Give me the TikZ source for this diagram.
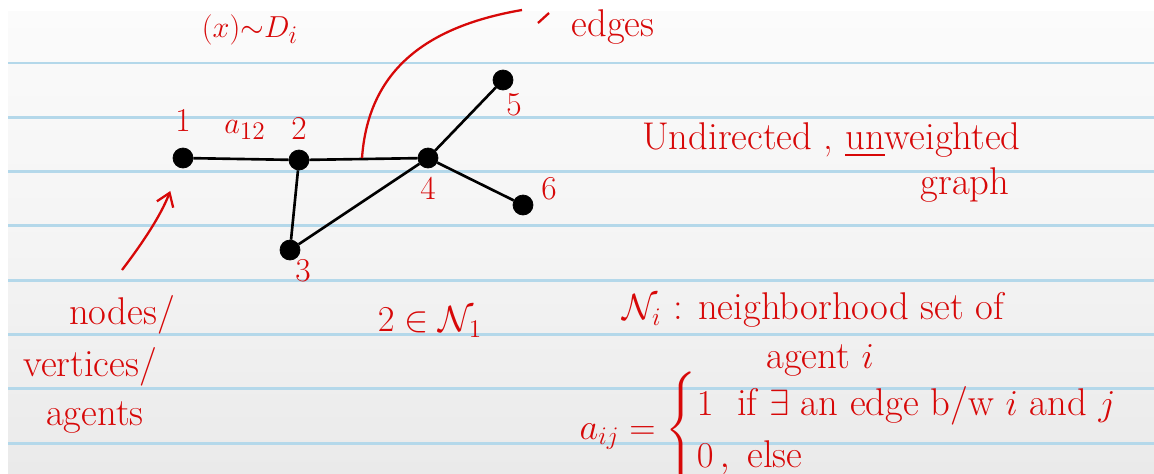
\documentclass[tikz,border=0pt]{standalone}
\usepackage{amsmath}
\usepackage{amssymb}
\usepackage{xcolor}
\usetikzlibrary{positioning,arrows.meta}

\definecolor{ink}{RGB}{215,8,8}
\definecolor{ruleblue}{RGB}{180,216,234}
\definecolor{pagetop}{RGB}{251,251,251}
\definecolor{pagebot}{RGB}{234,234,234}

\tikzset{
  agentdot/.style={circle,fill=black,draw=black,minimum size=0.4cm,inner sep=0pt},
  note/.style={text=ink,font=\fontsize{22}{27}\selectfont,inner sep=1pt},
  tag/.style={text=ink,font=\fontsize{19}{22}\selectfont,inner sep=1pt},
  ruling/.style={ruleblue,line width=1.6pt},
  link/.style={black,line width=1.5pt},
  pen/.style={ink,line width=1.3pt}
}

\begin{document}
\begin{tikzpicture}
            \useasboundingbox (0,0) rectangle (23.08,-9.46);
            \fill[white] (0,0) rectangle (23.08,-9.46);
            \shade[top color=pagetop,bottom color=pagebot,middle color=pagetop!60!pagebot] (0.16,-0.22) rectangle (23.08,-9.46);
            \foreach \i in {0,...,7}
                \draw[ruling] (0.16,{-1.26-1.086*\i}) -- (23.08,{-1.26-1.086*\i});

            \node[agentdot] (n1) at (3.66,-3.16) {};
            \node[agentdot] (n2) at (5.98,-3.20) {};
            \node[agentdot] (n3) at (5.80,-5.00) {};
            \node[agentdot] (n4) at (8.56,-3.16) {};
            \node[agentdot] (n5) at (10.06,-1.60) {};
            \node[agentdot] (n6) at (10.46,-4.10) {};

            \node[tag, above=0.28 of n1] (l1) {1};
            \node[tag, above=0.16 of n2] (l2) {2};
            \node[tag, below right=0.0 and -0.08 of n3] (l3) {3};
            \node[tag, below=0.14 of n4] (l4) {4};
            \node[tag, below right=0.08 and -0.12 of n5] (l5) {5};
            \node[tag, above right=-0.08 and 0.18 of n6] (l6) {6};
            \node[tag] (a12) at (4.9,-2.6) {$a_{12}$};

            \draw[link] (n1) -- (n2) -- (n4) -- (n5);
            \draw[link] (n2) -- (n3) -- (n4) -- (n6);

            \coordinate (ebase) at (7.24,-3.16);
            \coordinate (etip) at (10.44,-0.2);
            \draw[pen] (ebase) .. controls (7.36,-1.5) and (8.4,-0.55) .. (etip);
            \coordinate (slashlo) at (10.76,-0.46);
            \coordinate (slashhi) at (10.98,-0.26);
            \draw[pen] (slashlo) -- (slashhi);
            \node[note, anchor=base] (edges) at (12.26,-0.72) {edges};

            \coordinate (ptail) at (2.44,-5.4);
            \draw[pen,-{Straight Barb[length=2.5mm,width=3.5mm]},shorten >=0.5cm] (ptail) to[bend right=8] (n1);

            \node[tag] (dist) at (5.0,-0.6) {$(x){\sim}D_i$};
            \node[note] (nodes) at (2.44,-6.3) {nodes/};
            \node[note] (verts) at (1.8,-7.34) {vertices/};
            \node[note] (agents) at (1.9,-8.36) {agents};
            \node[note] (member) at (8.6,-6.44) {$2\in\mathcal{N}_1$};

            \node[note, anchor=west] (kind) at (12.8,-2.8) {Undirected , \underline{un}weighted};
            \node[note] (graph) at (19.3,-3.7) {graph};
            \node[note, anchor=west] (nbr) at (12.4,-6.2) {$\mathcal{N}_i$ : neighborhood set of};
            \node[note] (agent) at (16.4,-7.2) {agent $i$};
            \node[note, anchor=west] (aij) at (11.55,-8.6)
                {$a_{ij} = \begin{cases} 1\ \ \text{if } \exists \text{ an edge b/w } i \text{ and } j\\[-3pt] 0\,,\ \text{else}\end{cases}$};
\end{tikzpicture}
\end{document}
